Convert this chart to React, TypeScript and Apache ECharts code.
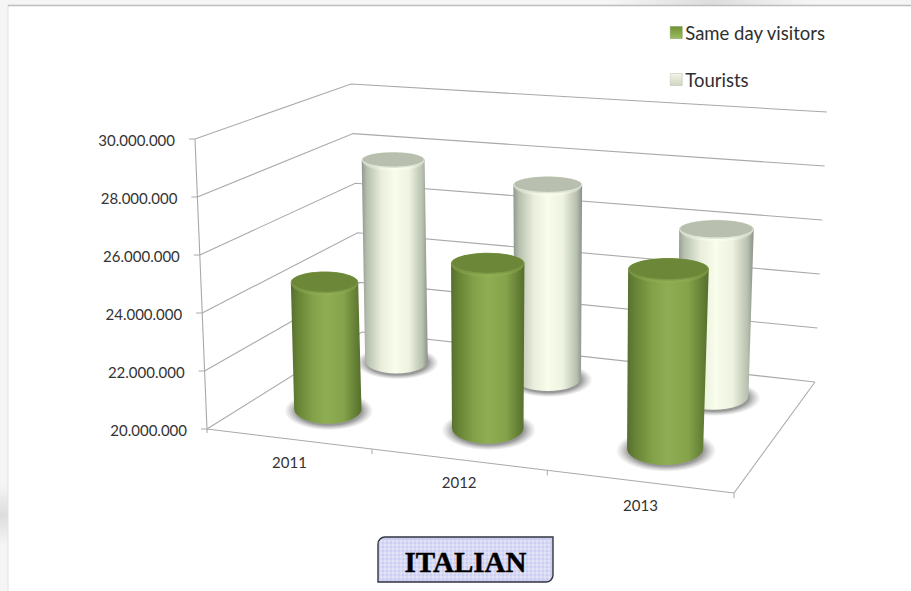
import React, { useEffect, useRef } from "react";
import * as echarts from "echarts";

const categories = ["2011", "2012", "2013"];
const sameDayVisitors = [24500000, 25700000, 26050000];
const tourists = [27700000, 27200000, 26050000];
const valueTicks = [20000000, 22000000, 24000000, 26000000, 28000000, 30000000];
const seriesNames = ["Same day visitors", "Tourists"];

const LABEL_FONT = "Lato, 'Open Sans', sans-serif";
const GRID = { left: 100, top: 100, width: 700, height: 400 };
const V_FRONT = 0.27;
const V_BACK = 0.76;
const RADIUS_U = 0.071;
const RADIUS_V = 0.14;
const CAP_FLATTEN = 0.82;

type Pt = [number, number];
// Perspective box corners: floor and ceiling, each as front-left, front-right, back-right, back-left.
const FLOOR: Pt[] = [[207, 429], [734, 493], [815, 382], [362, 332]];
const CEILING: Pt[] = [[195, 139], [748, 180], [827, 112], [351, 84]];

function quadMap(q: Pt[]) {
  const [[x0, y0], [x1, y1], [x2, y2], [x3, y3]] = q;
  const dx1 = x1 - x2, dx2 = x3 - x2, dx3 = x0 - x1 + x2 - x3;
  const dy1 = y1 - y2, dy2 = y3 - y2, dy3 = y0 - y1 + y2 - y3;
  const det = dx1 * dy2 - dx2 * dy1;
  const g = (dx3 * dy2 - dx2 * dy3) / det;
  const h = (dx1 * dy3 - dx3 * dy1) / det;
  const a = x1 - x0 + g * x1, b = x3 - x0 + h * x3;
  const d = y1 - y0 + g * y1, e = y3 - y0 + h * y3;
  return (u: number, v: number): Pt => {
    const k = g * u + h * v + 1;
    return [(a * u + b * v + x0) / k, (d * u + e * v + y0) / k];
  };
}
const floorAt = quadMap(FLOOR);
const ceilingAt = quadMap(CEILING);

function project(uRaw: number, v: number, w: number): Pt {
  // Slight foreshortening along the category direction.
  const u = uRaw - 0.011 * Math.sin(Math.PI * uRaw);
  const f = floorAt(u, v);
  const c = ceilingAt(u, v);
  return [f[0] + (c[0] - f[0]) * w, f[1] + (c[1] - f[1]) * w];
}

const toU = (px: number) => (px - GRID.left) / GRID.width;
const toW = (py: number) => (GRID.top + GRID.height - py) / GRID.height;
const fmt = (n: number) => String(n).replace(/\B(?=(\d{3})+(?!\d))/g, ".");

function hGrad(stops: [number, string][]) {
  return new echarts.graphic.LinearGradient(0, 0, 1, 0, stops.map(([offset, color]) => ({ offset, color })));
}

const GREEN = {
  body: hGrad([[0, "#566f2e"], [0.1, "#678335"], [0.3, "#81a048"], [0.5, "#8fae54"], [0.75, "#84a34a"], [0.92, "#647f35"], [1, "#556e2d"]]),
  cap: "#6d8739",
  rim: "#7e9a47",
  glow: "rgba(150,180,90,0.35)",
  nudge: -2,
};
const PALE = {
  body: hGrad([[0, "#8f988c"], [0.08, "#b6bfae"], [0.3, "#e9efdc"], [0.5, "#f8fdec"], [0.72, "#eef3e0"], [0.92, "#b7bfae"], [1, "#8a9288"]]),
  cap: "#b9bfae",
  rim: "#dfe5d3",
  glow: "rgba(255,255,245,0.35)",
  nudge: 0,
};

function cylinderItem(v: number, look: typeof GREEN) {
  return (_: any, api: any) => {
    const [px, py] = api.coord([api.value(0), api.value(1)]);
    const u = toU(px);
    const w = toW(py);
    const ellipseAt = (level: number, flatten: number) => {
      const c = project(u, v, level);
      const rx = (project(u + RADIUS_U, v, level)[0] - project(u - RADIUS_U, v, level)[0]) / 2;
      const ry = ((project(u, v - RADIUS_V, level)[1] - project(u, v + RADIUS_V, level)[1]) / 2) * flatten;
      return { cx: c[0], cy: c[1], rx, ry };
    };
    const t = ellipseAt(w, CAP_FLATTEN);
    t.cx += look.nudge;
    const b = ellipseAt(0, 1);
    // The columns stand almost upright, leaning only a few pixels from side to side.
    b.cx = t.cx + (0.5 - u) * 10;
    const d =
      `M${t.cx - t.rx} ${t.cy} L${b.cx - b.rx} ${b.cy} ` +
      `A${b.rx} ${b.ry} 0 0 0 ${b.cx + b.rx} ${b.cy} L${t.cx + t.rx} ${t.cy} ` +
      `A${t.rx} ${t.ry} 0 0 0 ${t.cx - t.rx} ${t.cy} Z`;
    return {
      type: "group",
      silent: true,
      children: [
        {
          type: "ellipse",
          shape: { cx: b.cx + 1, cy: b.cy + 2, rx: b.rx * 1.32, ry: b.ry * 1.3 },
          style: {
            fill: new echarts.graphic.RadialGradient(0.5, 0.5, 0.5, [
              { offset: 0, color: "rgba(100,100,100,0.8)" },
              { offset: 0.74, color: "rgba(105,105,105,0.68)" },
              { offset: 1, color: "rgba(140,140,140,0)" },
            ]),
          },
        },
        { type: "path", shape: { pathData: d }, style: { fill: look.body } },
        { type: "ellipse", shape: { cx: t.cx, cy: t.cy + 2, rx: t.rx - 1, ry: t.ry + 1.5 }, style: { fill: look.glow } },
        { type: "ellipse", shape: { cx: t.cx, cy: t.cy, rx: t.rx, ry: t.ry + 1 }, style: { fill: look.rim } },
        { type: "ellipse", shape: { cx: t.cx, cy: t.cy - 0.5, rx: t.rx - 1, ry: t.ry }, style: { fill: look.cap } },
      ],
    };
  };
}

function valueAxisItem(_: any, api: any) {
  const [, py] = api.coord([0, api.value(0)]);
  const w = toW(py);
  const front = project(0, 0, w);
  const back = project(0, 1, w);
  const right = project(1, 1, w);
  return {
    type: "group",
    silent: true,
    children: [
      { type: "line", shape: { x1: front[0] - 6, y1: front[1], x2: front[0], y2: front[1] }, style: { stroke: "#a9a9a9", lineWidth: 1 } },
      { type: "polyline", shape: { points: [front, back, right] }, style: { stroke: "#a8a9ad", lineWidth: 1.1, fill: "none" } },
      {
        type: "text",
        style: {
          text: fmt(api.value(0)),
          x: front[0] - 20,
          y: front[1] + 1,
          align: "right",
          verticalAlign: "middle",
          font: `15px ${LABEL_FONT}`,
          fill: "#333333",
        },
      },
    ],
  };
}

function categoryAxisItem(_: any, api: any) {
  const i = api.value(0);
  const [px] = api.coord([i, 25000000]);
  const u = toU(px);
  const edge = project(u + 1 / 6, 0, 0);
  const mid = project(u, 0, 0);
  return {
    type: "group",
    silent: true,
    children: [
      { type: "line", shape: { x1: edge[0], y1: edge[1], x2: edge[0], y2: edge[1] + 5 }, style: { stroke: "#a9a9a9", lineWidth: 1 } },
      {
        type: "text",
        style: {
          text: categories[i],
          x: mid[0] + 1,
          y: mid[1] + 23,
          align: "center",
          verticalAlign: "middle",
          font: `15px ${LABEL_FONT}`,
          fill: "#333333",
        },
      },
    ],
  };
}

function line(a: Pt, b: Pt, stroke = "#a9a9a9") {
  return { type: "line", shape: { x1: a[0], y1: a[1], x2: b[0], y2: b[1] }, style: { stroke, lineWidth: 1.1 } };
}

// Lavender name plate: a square weave of pale lines inside a bordered box.
function namePlate() {
  const X = 378, Y = 537, W = 175, H = 45, STEP = 4;
  const weave: any[] = [];
  for (let x = X + 3; x < X + W - 1; x += STEP)
    weave.push({ type: "line", shape: { x1: x, y1: Y + 3, x2: x, y2: Y + H - 2 }, style: { stroke: "rgba(255,255,255,0.5)", lineWidth: 1 } });
  for (let y = Y + 4; y < Y + H - 1; y += STEP)
    weave.push({ type: "line", shape: { x1: X + 2, y1: y, x2: X + W - 2, y2: y }, style: { stroke: "rgba(255,255,255,0.5)", lineWidth: 1 } });
  return [
    { type: "rect", shape: { x: X, y: Y, width: W, height: H, r: [7, 0, 7, 0] }, style: { fill: "#cbcef1", stroke: "#35353f", lineWidth: 1.4 } },
    ...weave,
    {
      type: "text",
      style: {
        text: "ITALIAN",
        x: X + W / 2,
        y: Y + H / 2 + 2,
        align: "center",
        verticalAlign: "middle",
        font: "bold 29px 'Liberation Serif', serif",
        fill: "#000000",
        stroke: "#000000",
        lineWidth: 0.4,
      },
    },
  ];
}

// Faint grey smudges on the outer strip around the white panel.
function smudge(x: number, y: number, width: number, height: number, horizontal: boolean) {
  const stops = [
    { offset: 0, color: "rgba(215,215,215,0)" },
    { offset: 0.5, color: "rgba(215,215,215,0.8)" },
    { offset: 1, color: "rgba(215,215,215,0)" },
  ];
  return {
    type: "rect",
    shape: { x, y, width, height },
    style: { fill: new echarts.graphic.LinearGradient(0, 0, horizontal ? 1 : 0, horizontal ? 0 : 1, stops) },
  };
}

export default function App() {
  const ref = useRef<HTMLDivElement>(null);
  useEffect(() => {
    document.body.style.margin = "0";
    const chart = echarts.init(ref.current!, undefined, { renderer: "svg" });
    const legendSwatch = (top: string, bottom: string, border: string) => ({
      color: new echarts.graphic.LinearGradient(0, 0, 0, 1, [
        { offset: 0, color: top },
        { offset: 1, color: bottom },
      ]),
      borderColor: border,
      borderWidth: 0.5,
    });
    chart.setOption({
      animation: false,
      backgroundColor: "#f5f5f5",
      grid: GRID,
      xAxis: { type: "category", data: categories, show: false },
      yAxis: { type: "value", min: 20000000, max: 30000000, interval: 2000000, show: false },
      legend: {
        left: 665,
        top: 18,
        orient: "vertical",
        icon: "rect",
        itemWidth: 12,
        itemHeight: 12,
        itemGap: 28,
        selectedMode: false,
        textStyle: { fontFamily: LABEL_FONT, fontSize: 18.5, color: "#2f2f2f", padding: [0, 0, 0, -2] },
        data: [
          { name: seriesNames[0], itemStyle: legendSwatch("#6f9136", "#9dbb5f", "#7f9a4a") },
          { name: seriesNames[1], itemStyle: legendSwatch("#f2f5e8", "#cfd5c3", "#b8bcae") },
        ],
      },
      graphic: [
        { type: "group", z: -10, children: [
          smudge(0, 485, 8, 60, false),
          smudge(610, 0, 200, 5, true),
          { type: "rect", shape: { x: 8, y: 5, width: 903, height: 586 }, style: { fill: "#ffffff" } },
          line([8, 5], [8, 591], "#e2e2e2"),
          { type: "line", shape: { x1: 8, y1: 5.5, x2: 911, y2: 5.5 }, style: { stroke: "#bdbdbd", lineWidth: 1.5 } },
        ] },
        { type: "group", z: 0, children: [
          line(CEILING[0], FLOOR[0]),
          line(FLOOR[0], FLOOR[1]),
          line(FLOOR[1], FLOOR[2]),
          line([FLOOR[0][0], FLOOR[0][1]], [FLOOR[0][0], FLOOR[0][1] + 4]),
        ] },
        { type: "group", z: 10, children: namePlate() },
      ],
      series: [
        { type: "custom", name: "valueScale", coordinateSystem: "cartesian2d", z: 1, clip: false, renderItem: valueAxisItem, data: valueTicks.map((t) => [t]), encode: { y: 0 } },
        { type: "custom", name: "categoryScale", coordinateSystem: "cartesian2d", z: 1, clip: false, renderItem: categoryAxisItem, data: categories.map((_, i) => [i]), encode: { x: 0 } },
        { type: "custom", name: seriesNames[1], coordinateSystem: "cartesian2d", z: 2, clip: false, renderItem: cylinderItem(V_BACK, PALE), data: tourists.map((t, i) => [i, t]), encode: { x: 0, y: 1 } },
        { type: "custom", name: seriesNames[0], coordinateSystem: "cartesian2d", z: 3, clip: false, renderItem: cylinderItem(V_FRONT, GREEN), data: sameDayVisitors.map((t, i) => [i, t]), encode: { x: 0, y: 1 } },
      ],
    });
    return () => chart.dispose();
  }, []);
  return <div ref={ref} style={{ position: "fixed", left: 0, top: 0, width: 911, height: 591 }} />;
}
